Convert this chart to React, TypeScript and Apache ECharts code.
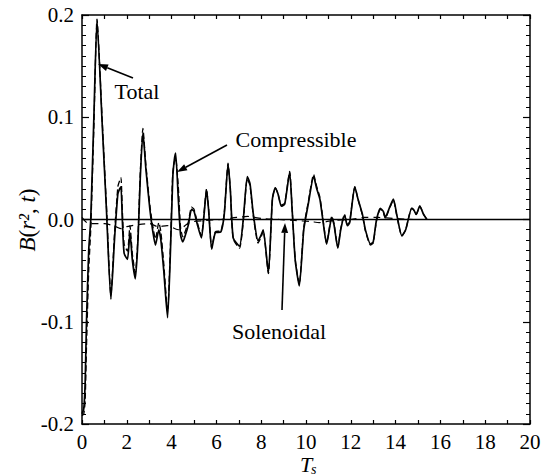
import React, { useEffect, useRef } from "react";
import * as echarts from "echarts";

const T_VALUES = [
  0.0, 0.08, 0.14, 0.2, 0.3, 0.39, 0.53, 0.67, 0.9, 1.09, 1.29, 1.45, 1.6, 1.68, 1.74, 1.8, 1.88, 2.03, 2.14, 2.25,
  2.38, 2.5, 2.6, 2.72, 2.85, 3.03, 3.15, 3.28, 3.43, 3.52, 3.65, 3.82, 3.95, 4.05, 4.12, 4.18, 4.3, 4.4, 4.5, 4.62,
  4.75, 4.89, 5.0, 5.15, 5.33, 5.45, 5.56, 5.65, 5.79, 5.95, 6.2, 6.35, 6.52, 6.62, 6.75, 7.03, 7.2, 7.38, 7.5, 7.65,
  7.86, 8.0, 8.09, 8.32, 8.5, 8.63, 8.75, 8.9, 9.05, 9.27, 9.38, 9.52, 9.7, 9.9, 10.1, 10.34, 10.48, 10.62, 10.75, 10.92,
  11.15, 11.25, 11.42, 11.55, 11.72, 11.85, 11.95, 12.18, 12.32, 12.52, 12.65, 12.88, 13.0, 13.15, 13.32, 13.45, 13.54, 13.7, 13.9, 14.05,
  14.28, 14.45, 14.72, 14.82, 14.92, 15.08, 15.25, 15.4,
];

const TOTAL = [
  -0.19, -0.185, -0.16, -0.1, -0.03, 0.0, 0.1, 0.195, 0.094, 0.01, -0.078, -0.02, 0.025, 0.03, 0.032, 0.0, -0.033, -0.039, -0.013, -0.04,
  -0.058, -0.02, 0.04, 0.085, 0.05, 0.01, -0.01, -0.025, -0.01, -0.02, -0.05, -0.096, -0.03, 0.04, 0.058, 0.065, 0.02, -0.015, -0.022, -0.015,
  -0.005, 0.01, 0.008, -0.005, -0.018, 0.005, 0.029, 0.01, -0.029, -0.013, -0.012, 0.005, 0.054, 0.03, -0.018, -0.026, 0.0, 0.042, 0.035, 0.005,
  -0.021, -0.015, -0.01, -0.052, 0.02, 0.031, 0.025, 0.013, 0.015, 0.046, 0.01, -0.04, -0.065, -0.01, 0.015, 0.042, 0.03, 0.02, 0.0, -0.024,
  0.002, -0.005, -0.028, -0.01, 0.004, -0.006, -0.003, 0.032, 0.02, 0.005, -0.01, -0.024, -0.022, 0.0, 0.011, 0.008, 0.002, 0.01, 0.02, 0.005,
  -0.016, -0.01, 0.011, 0.009, 0.005, 0.013, 0.005, 0.0,
];

const COMPRESSIBLE = [
  -0.192, -0.19, -0.178, -0.125, -0.05, -0.01, 0.09, 0.196, 0.098, 0.014, -0.074, -0.014, 0.032, 0.038, 0.041, 0.01, -0.024, -0.031, -0.006, -0.034,
  -0.052, -0.015, 0.045, 0.089, 0.054, 0.014, -0.005, -0.019, -0.003, -0.012, -0.043, -0.09, -0.024, 0.045, 0.056, 0.06, 0.032, -0.008, -0.017, -0.011,
  -0.002, 0.012, 0.01, -0.003, -0.016, 0.007, 0.03, 0.011, -0.028, -0.012, -0.011, 0.006, 0.055, 0.03, -0.019, -0.028, -0.002, 0.04, 0.033, 0.003,
  -0.023, -0.017, -0.011, -0.053, 0.02, 0.031, 0.025, 0.014, 0.016, 0.047, 0.011, -0.039, -0.063, -0.008, 0.017, 0.044, 0.032, 0.022, 0.002, -0.023,
  0.003, -0.004, -0.027, -0.009, 0.005, -0.005, -0.002, 0.032, 0.02, 0.004, -0.011, -0.025, -0.023, -0.001, 0.01, 0.007, 0.001, 0.009, 0.019, 0.004,
  -0.016, -0.01, 0.011, 0.009, 0.005, 0.013, 0.005, 0.0,
];

const SOL_T = [0, 0.3, 0.6, 1.0, 1.5, 1.75, 2.0, 2.5, 3.0, 3.4, 3.8, 4.3, 4.8, 5.5, 6.2, 6.9, 7.4, 8.0, 8.8, 9.5, 10.2, 10.6, 11.2, 12.0, 12.6, 13.2, 14.0, 14.8, 15.4];
const SOLENOIDAL = [0.002, -0.004, -0.004, -0.004, -0.007, -0.009, -0.007, -0.005, -0.004, -0.007, -0.006, -0.01, -0.003, -0.001, 0.0, 0.002, 0.003, 0.001, 0.0, -0.001, -0.002, -0.003, -0.001, 0.0, 0.002, 0.002, 0.001, 0.0, 0.0];

const X_MIN = 0;
const X_MAX = 20;
const X_STEP = 2;
const Y_MIN = -0.2;
const Y_MAX = 0.2;
const Y_STEP = 0.1;

const FONT = "serif";

function arrow(x1: number, y1: number, x2: number, y2: number) {
  const dx = x2 - x1;
  const dy = y2 - y1;
  const len = Math.sqrt(dx * dx + dy * dy);
  const ux = dx / len;
  const uy = dy / len;
  const hl = 10;
  const hw = 3.5;
  const bx = x2 - ux * hl;
  const by = y2 - uy * hl;
  return [
    {
      type: "line",
      shape: { x1, y1, x2: bx, y2: by },
      style: { stroke: "#000", lineWidth: 1.6 },
    },
    {
      type: "polygon",
      shape: {
        points: [
          [x2, y2],
          [bx - uy * hw, by + ux * hw],
          [bx + uy * hw, by - ux * hw],
        ],
      },
      style: { fill: "#000" },
    },
  ];
}

export default function App() {
  const ref = useRef<HTMLDivElement>(null);
  useEffect(() => {
    if (!ref.current) return;
    const chart = echarts.init(ref.current, null, { renderer: "svg" });
    const totalData = T_VALUES.map((t, i) => [t, TOTAL[i]]);
    const compData = T_VALUES.map((t, i) => [t, COMPRESSIBLE[i]]);
    const solData = SOL_T.map((t, i) => [t, SOLENOIDAL[i]]);

    const axisCommon = {
      type: "value",
      axisLine: { show: true, onZero: false, lineStyle: { color: "#000", width: 1.5 } },
      splitLine: { show: false },
    };

    chart.setOption({
      animation: false,
      backgroundColor: "#fff",
      textStyle: { fontFamily: FONT },
      grid: { left: 82, right: 15, top: 15, bottom: 52, containLabel: false },
      xAxis: [
        {
          ...axisCommon,
          position: "bottom",
          min: X_MIN,
          max: X_MAX,
          interval: X_STEP,
          axisTick: { show: true, inside: true, length: 4, lineStyle: { color: "#000", width: 1.2 } },
          minorTick: { show: true, splitNumber: 2, length: 4, lineStyle: { color: "#000", width: 1.2 } },
          axisLabel: { color: "#000", fontFamily: FONT, fontSize: 21, margin: 7 },
        },
        {
          ...axisCommon,
          position: "top",
          min: X_MIN,
          max: X_MAX,
          interval: X_STEP,
          axisTick: { show: true, inside: true, length: 4, lineStyle: { color: "#000", width: 1.2 } },
          minorTick: { show: true, splitNumber: 2, length: 4, lineStyle: { color: "#000", width: 1.2 } },
          axisLabel: { show: false },
        },
      ],
      yAxis: [
        {
          ...axisCommon,
          position: "left",
          min: Y_MIN,
          max: Y_MAX,
          interval: Y_STEP,
          axisTick: { show: true, inside: true, length: 7, lineStyle: { color: "#000", width: 1.2 } },
          minorTick: { show: true, splitNumber: 10, length: 4, lineStyle: { color: "#000", width: 1 } },
          axisLabel: {
            color: "#000",
            fontFamily: FONT,
            fontSize: 21,
            margin: 8,
            formatter: (v: number) => v.toFixed(1),
          },
        },
        {
          ...axisCommon,
          position: "right",
          min: Y_MIN,
          max: Y_MAX,
          interval: Y_STEP,
          axisTick: { show: true, inside: true, length: 7, lineStyle: { color: "#000", width: 1.2 } },
          minorTick: { show: true, splitNumber: 10, length: 4, lineStyle: { color: "#000", width: 1 } },
          axisLabel: { show: false },
        },
      ],
      series: [
        {
          name: "Solenoidal",
          type: "line",
          data: solData,
          showSymbol: false,
          symbol: "none",
          smooth: 0.3,
          lineStyle: { color: "#000", width: 1.2, type: [7, 5] },
          z: 2,
        },
        {
          name: "Compressible",
          type: "line",
          data: compData,
          showSymbol: false,
          symbol: "none",
          smooth: 0.2,
          lineStyle: { color: "#000", width: 1.3, type: [6, 3] },
          z: 3,
        },
        {
          name: "Total",
          type: "line",
          data: totalData,
          showSymbol: false,
          symbol: "none",
          smooth: 0.2,
          lineStyle: { color: "#000", width: 1.7 },
          z: 4,
          markLine: {
            silent: true,
            symbol: ["none", "none"],
            label: { show: false },
            lineStyle: { color: "#000", width: 1.3, type: "solid" },
            data: [{ yAxis: 0 }],
          },
        },
      ],
      graphic: [
        {
          type: "text",
          x: 27,
          y: 220,
          rotation: Math.PI / 2,
          style: {
            text: "{i|B}{n|(}{i|r²}{n|, }{i|t}{n|)}",
            rich: {
              i: { fontFamily: FONT, fontStyle: "italic", fontSize: 23, fill: "#000" },
              n: { fontFamily: FONT, fontSize: 23, fill: "#000" },
            },
            textAlign: "center",
            textVerticalAlign: "middle",
          },
        },
        {
          type: "text",
          x: 306,
          y: 453,
          style: {
            text: "T",
            fontFamily: FONT,
            fontStyle: "italic",
            fontSize: 22,
            fill: "#000",
            textAlign: "center",
            textVerticalAlign: "top",
          },
        },
        {
          type: "text",
          x: 311,
          y: 462,
          style: {
            text: "s",
            fontFamily: FONT,
            fontStyle: "italic",
            fontSize: 14,
            fill: "#000",
            textAlign: "left",
            textVerticalAlign: "top",
          },
        },
        {
          type: "text",
          x: 137,
          y: 91,
          style: { text: "Total", fontFamily: FONT, fontSize: 22, fill: "#000", textAlign: "center", textVerticalAlign: "middle" },
        },
        {
          type: "text",
          x: 296,
          y: 139,
          style: { text: "Compressible", fontFamily: FONT, fontSize: 22, fill: "#000", textAlign: "center", textVerticalAlign: "middle" },
        },
        {
          type: "text",
          x: 279,
          y: 331,
          style: { text: "Solenoidal", fontFamily: FONT, fontSize: 22, fill: "#000", textAlign: "center", textVerticalAlign: "middle" },
        },
        ...arrow(133, 78, 98, 64),
        ...arrow(227, 145, 177, 172),
        ...arrow(282, 310, 285, 223),
      ],
    });
    return () => chart.dispose();
  }, []);
  return <div ref={ref} style={{ position: "absolute", left: 0, top: 0, width: 545, height: 476 }} />;
}
